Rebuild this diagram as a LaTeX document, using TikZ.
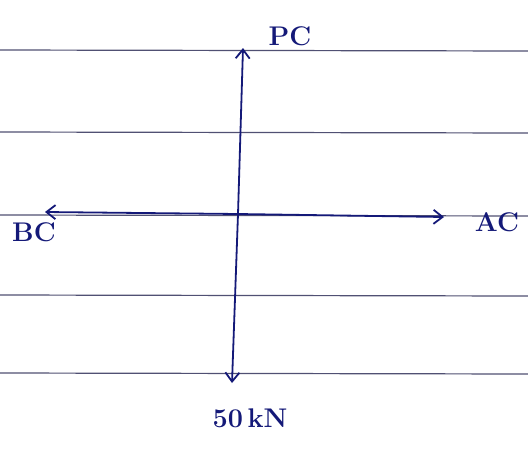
\documentclass[tikz,border=0pt]{standalone}
\usetikzlibrary{arrows.meta}
\definecolor{ink}{RGB}{20,25,120}
\definecolor{rule}{RGB}{80,80,115}
\begin{document}
\begin{tikzpicture}[x=1pt,y=-1pt,
  ruleline/.style={rule,line width=1.2pt},
  force/.style={ink,line width=1.8pt,-{Straight Barb[length=9pt,width=14pt,line width=1.8pt]}},
  lbl/.style={ink,font=\fontsize{27}{29}\selectfont\bfseries,inner sep=1pt}]
\fill[white] (0,0) rectangle (528,448);
\useasboundingbox (0,0) rectangle (528,448);
% ruled paper
\foreach \yy in {50,132,215,295,373}
  \draw[ruleline] (0,\yy) -- (528,\yy+1);
% forces
\coordinate (c) at (238,214);
\coordinate (top) at (243,48);
\coordinate (bot) at (232,383);
\coordinate (left) at (45,212);
\coordinate (right) at (444,217);
\draw[force] (c) -- (top);
\draw[force] (c) -- (bot);
\draw[force] (c) -- (left);
\draw[force] (c) -- (right);
% labels
\node[lbl] (pc) at (290,36) {PC};
\node[lbl] (bc) at (34,232) {BC};
\node[lbl] (ac) at (497,222) {AC};
\node[lbl] (load) at (250,418) {50\,kN};
\end{tikzpicture}
\end{document}
